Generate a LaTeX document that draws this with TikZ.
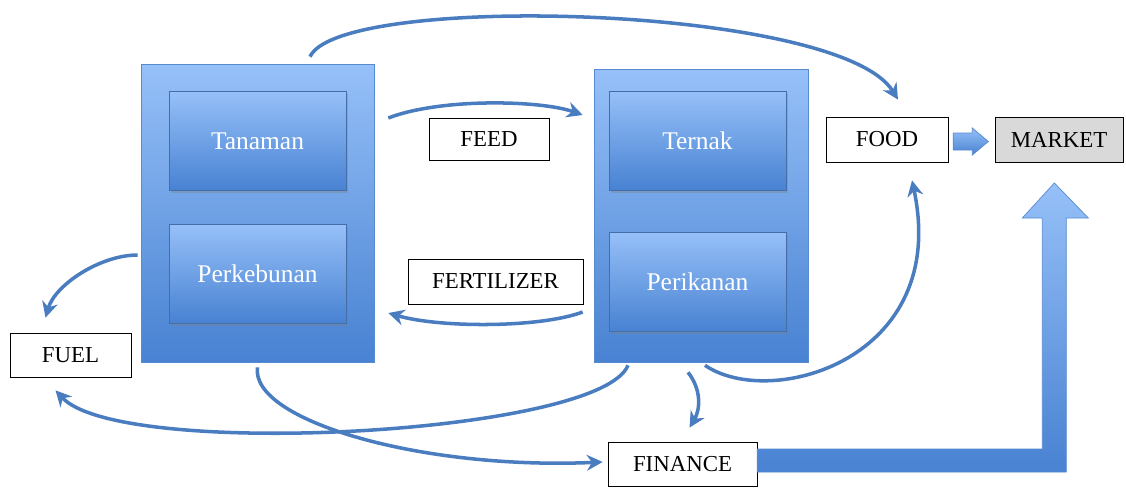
\documentclass[tikz,border=0pt]{standalone}
\usepackage{fontspec}
\setmainfont{Liberation Serif}
\usetikzlibrary{arrows.meta,shadows,calc}
\definecolor{edgeblue}{RGB}{88,138,208}
\definecolor{lightblue}{RGB}{150,192,248}
\definecolor{darkblue}{RGB}{72,130,210}
\definecolor{flowblue}{RGB}{74,124,192}
\definecolor{mktgray}{RGB}{217,217,217}
\tikzset{
  grp/.style={draw=edgeblue, top color=lightblue, bottom color=darkblue, inner sep=0pt},
  sector/.style={draw=edgeblue!80!black, top color=lightblue, bottom color=darkblue,
    drop shadow={opacity=.35,shadow xshift=1pt,shadow yshift=-1.5pt}, text=white,
    font=\fontsize{14.5}{16}\selectfont, minimum width=3.54cm, minimum height=1.98cm, inner sep=0pt},
  flowbox/.style={draw, thin, fill=white, font=\fontsize{13}{15}\selectfont, minimum height=.88cm, inner sep=0pt},
  flow/.style={draw=flowblue, line width=2pt, ->},
  blockarr/.style={draw=edgeblue, top color=lightblue, bottom color=darkblue}
}
\begin{document}
\begin{tikzpicture}[x=0.02cm, y=-0.02cm, >={Stealth[length=9pt,width=9pt]}]
  \useasboundingbox (0,0) rectangle (1126,487);
  \node[grp, minimum width=4.66cm, minimum height=5.96cm] (grpA) at (257.5,213) {};
  \node[grp, minimum width=4.28cm, minimum height=5.86cm] (grpB) at (701,215.5) {};
  \node[sector] (tanaman) at (257.5,141) {Tanaman};
  \node[sector] (kebun) at (257.5,273.5) {Perkebunan};
  \node[sector] (ternak) at (697.5,140.5) {Ternak};
  \node[sector] (ikan) at (697.5,281.5) {Perikanan};
  \node[flowbox, minimum width=2.4cm, minimum height=.84cm] (feed) at (489,139) {FEED};
  \node[flowbox, minimum width=3.5cm, minimum height=.9cm] (fert) at (495.5,281.5) {FERTILIZER};
  \node[flowbox, minimum width=2.44cm, minimum height=.9cm] (food) at (887,139.5) {FOOD};
  \node[flowbox, fill=mktgray, minimum width=2.56cm, minimum height=.9cm] (market) at (1059,139.5) {MARKET};
  \node[flowbox, minimum width=2.42cm] (fuel) at (70.5,355) {FUEL};
  \node[flowbox, minimum width=2.98cm] (finance) at (682.5,464) {FINANCE};
  % curved flows
  \draw[flow] ($(grpA.north)+(52.5,-7)$) .. controls (340,-8) and (840,5) .. ($(food.north)+(11,-17)$);
  \draw[flow] ($(tanaman.east)+(42,-23)$) .. controls (440,98) and (540,100) .. ($(ternak.west)+(-26,-25.5)$);
  \draw[flow] ($(ikan.west)+(-26,30.5)$) .. controls (540,328) and (440,328) .. ($(kebun.east)+(42,39.5)$);
  \draw[flow] ($(grpA.west)+(-3,42)$) .. controls (100,255) and (55,285) .. ($(fuel.north)+(-25,-15)$);
  \draw[flow] ($(grpB.south)+(-73,3)$) .. controls (600,435) and (120,460) .. ($(fuel.south)+(-15,13)$);
  \draw[flow] ($(grpA.south)+(0,5)$) .. controls (250,420) and (420,470) .. ($(finance.west)+(-5,-2)$);
  \draw[flow] ($(grpB.south)+(-13,10)$) .. controls (702,390) and (700,410) .. ($(finance.north)+(7,-14)$);
  \draw[flow] ($(grpB.south)+(4,3)$) .. controls (770,410) and (950,360) .. ($(food.south)+(25,18)$);
  % block arrows
  \shadedraw[blockarr, shift={(food.east)}] (5,-6.5) -- (24,-6.5) -- (24,-11.5) -- (40,2) -- (24,15.5) -- (24,10.5) -- (5,10.5) -- cycle;
  \shadedraw[blockarr, shift={(finance.east)}] (0,-15) -- (285,-15) -- (285,-246) -- (265,-246) -- (297,-281)
    -- (331,-246) -- (309,-246) -- (309,8) -- (0,8) -- cycle;
\end{tikzpicture}
\end{document}
